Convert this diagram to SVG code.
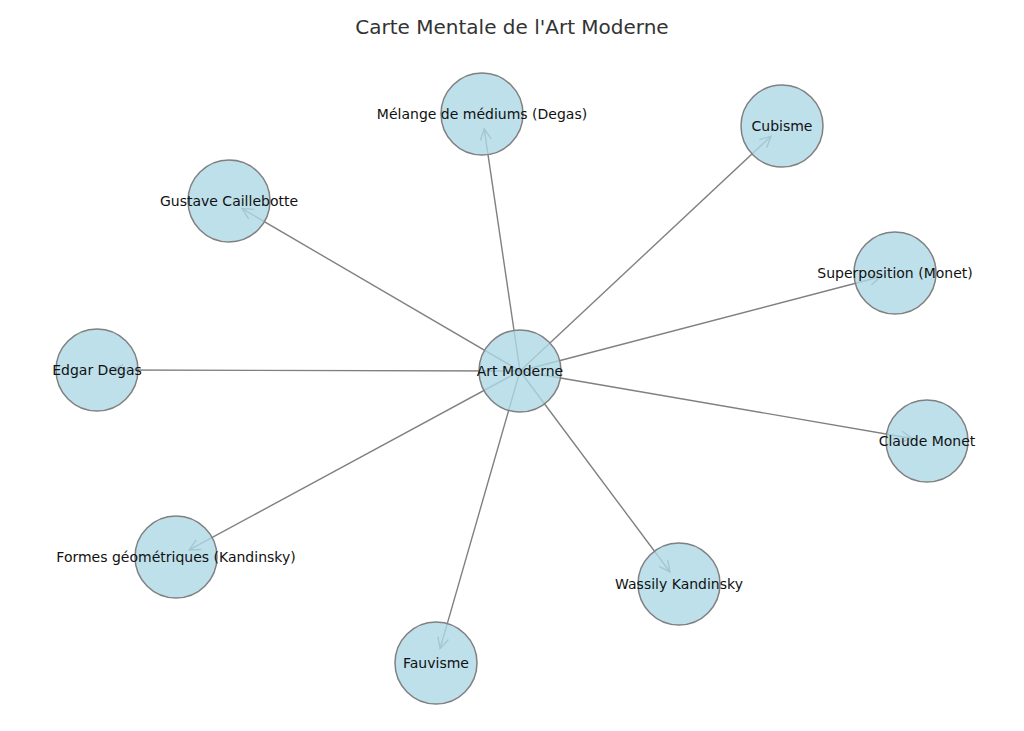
<svg xmlns="http://www.w3.org/2000/svg" width="1024" height="731" viewBox="0 0 1024 731">
<style>
.e{stroke:#808080;stroke-width:1.4;fill:none;marker-end:url(#a)}
.n circle{fill:#add8e6;fill-opacity:0.8;stroke:#808080;stroke-width:1.5}
.n text{font-family:"DejaVu Sans",sans-serif;font-size:14px;fill:#111;text-anchor:middle;dominant-baseline:central}
</style>
<defs><marker id="a" markerUnits="userSpaceOnUse" markerWidth="14" markerHeight="14" refX="12" refY="6" orient="auto" viewBox="0 0 14 12"><path d="M1,0.5 L12,6 L1,11.5" fill="none" stroke="#808080" stroke-width="1.4"/></marker></defs>
<rect width="1024" height="731" fill="#fff"/>
<text x="512" y="27" font-family="DejaVu Sans,sans-serif" font-size="20" fill="#333" text-anchor="middle" dominant-baseline="central">Carte Mentale de l'Art Moderne</text>
<g id="edges">
<line class="e" x1="520" y1="371" x2="484.2" y2="128.8"/>
<line class="e" x1="520" y1="371" x2="771" y2="136.2"/>
<line class="e" x1="520" y1="371" x2="242" y2="208.6"/>
<line class="e" x1="520" y1="371" x2="880.5" y2="276.8"/>
<line class="e" x1="520" y1="371" x2="112" y2="370"/>
<line class="e" x1="520" y1="371" x2="912.2" y2="438.5"/>
<line class="e" x1="520" y1="371" x2="189.2" y2="549.9"/>
<line class="e" x1="520" y1="371" x2="670" y2="572"/>
<line class="e" x1="520" y1="371" x2="440.1" y2="648.6"/>
</g>
<g id="n-art" class="n"><circle cx="520" cy="371" r="41"/><text x="520" y="371">Art Moderne</text></g>
<g id="n-melange" class="n"><circle cx="482" cy="114" r="41"/><text x="482" y="114">Mélange de médiums (Degas)</text></g>
<g id="n-cubisme" class="n"><circle cx="782" cy="126" r="41"/><text x="782" y="126">Cubisme</text></g>
<g id="n-gustave" class="n"><circle cx="229" cy="201" r="41"/><text x="229" y="201">Gustave Caillebotte</text></g>
<g id="n-superposition" class="n"><circle cx="895" cy="273" r="41"/><text x="895" y="273">Superposition (Monet)</text></g>
<g id="n-edgar" class="n"><circle cx="97" cy="370" r="41"/><text x="97" y="370">Edgar Degas</text></g>
<g id="n-monet" class="n"><circle cx="927" cy="441" r="41"/><text x="927" y="441">Claude Monet</text></g>
<g id="n-formes" class="n"><circle cx="176" cy="557" r="41"/><text x="176" y="557">Formes géométriques (Kandinsky)</text></g>
<g id="n-wassily" class="n"><circle cx="679" cy="584" r="41"/><text x="679" y="584">Wassily Kandinsky</text></g>
<g id="n-fauvisme" class="n"><circle cx="436" cy="663" r="41"/><text x="436" y="663">Fauvisme</text></g>
</svg>
